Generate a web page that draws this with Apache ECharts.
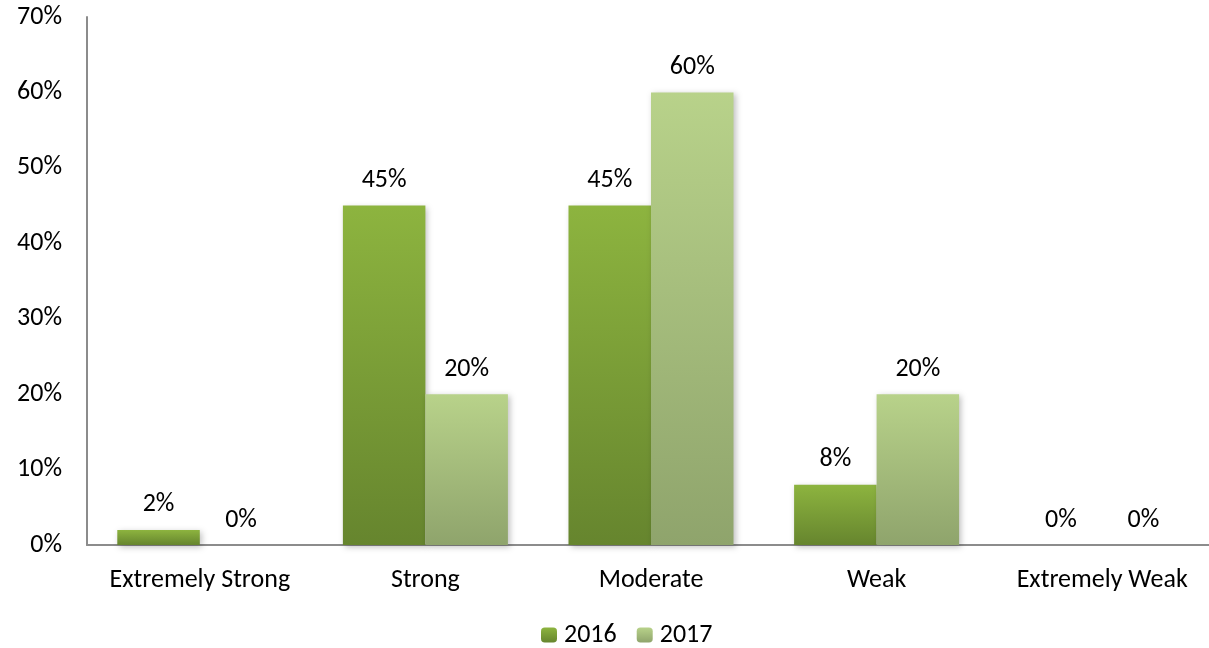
<!DOCTYPE html>
<html><head><meta charset="utf-8">
<script src="https://cdn.jsdelivr.net/npm/echarts@6/dist/echarts.min.js"></script>
<style>html,body{margin:0;padding:0;background:#fff;overflow:hidden}#c{width:1215px;height:648px}</style>
</head><body><div id="c"></div>
<script>
const categories = ['Extremely Strong', 'Strong', 'Moderate', 'Weak', 'Extremely Weak'];
const series2016 = [2, 45, 45, 8, 0];
const series2017 = [0, 20, 60, 20, 0];
const yTicks = [0, 10, 20, 30, 40, 50, 60, 70];

const font = 'Carlito, "Open Sans", "Liberation Sans", sans-serif';
const fs = 26;
const chart = echarts.init(document.getElementById('c'));
function grad(top, bottom) {
  return new echarts.graphic.LinearGradient(0, 0, 0, 1, [{offset: 0, color: top}, {offset: 1, color: bottom}]);
}
const labelCfg = {show: true, position: 'top', distance: 12, formatter: p => p.value + '%', fontSize: fs, color: '#000', fontFamily: font};
chart.setOption({
  animation: false,
  textStyle: {fontFamily: font},
  grid: {left: 87, right: 0, top: 17, bottom: 103, containLabel: false},
  legend: {
    top: 622, left: 541, padding: 0, itemWidth: 16, itemHeight: 15, itemGap: 20,
    textStyle: {fontSize: fs, color: '#000', fontFamily: font, padding: [0, 0, 0, 2]},
    data: ['2016', '2017']
  },
  xAxis: {
    type: 'category', data: categories,
    axisLine: {lineStyle: {color: '#8c8c8c', width: 2}},
    axisTick: {show: false},
    axisLabel: {fontSize: fs, color: '#000', margin: 22, interval: 0, fontFamily: font}
  },
  yAxis: {
    type: 'value', min: 0, max: 70, interval: 10,
    axisLine: {show: true, lineStyle: {color: '#8c8c8c', width: 2}},
    axisTick: {show: false},
    splitLine: {show: false},
    axisLabel: {fontSize: fs, color: '#000', margin: 25, formatter: v => yTicks.includes(v) ? v + '%' : '', fontFamily: font}
  },
  series: [
    {
      name: '2016', type: 'bar', data: series2016, barGap: '0%', barWidth: 82.5,
      itemStyle: {color: grad('#8db43f', '#66852e'), shadowColor: 'rgba(0,0,0,0.25)', shadowBlur: 6, shadowOffsetX: 2, shadowOffsetY: 2},
      label: labelCfg
    },
    {
      name: '2017', type: 'bar', data: series2017, barWidth: 82.5,
      itemStyle: {color: grad('#b8d28a', '#8fa46c'), shadowColor: 'rgba(0,0,0,0.25)', shadowBlur: 6, shadowOffsetX: 2, shadowOffsetY: 2},
      label: labelCfg
    }
  ]
});
</script></body></html>
